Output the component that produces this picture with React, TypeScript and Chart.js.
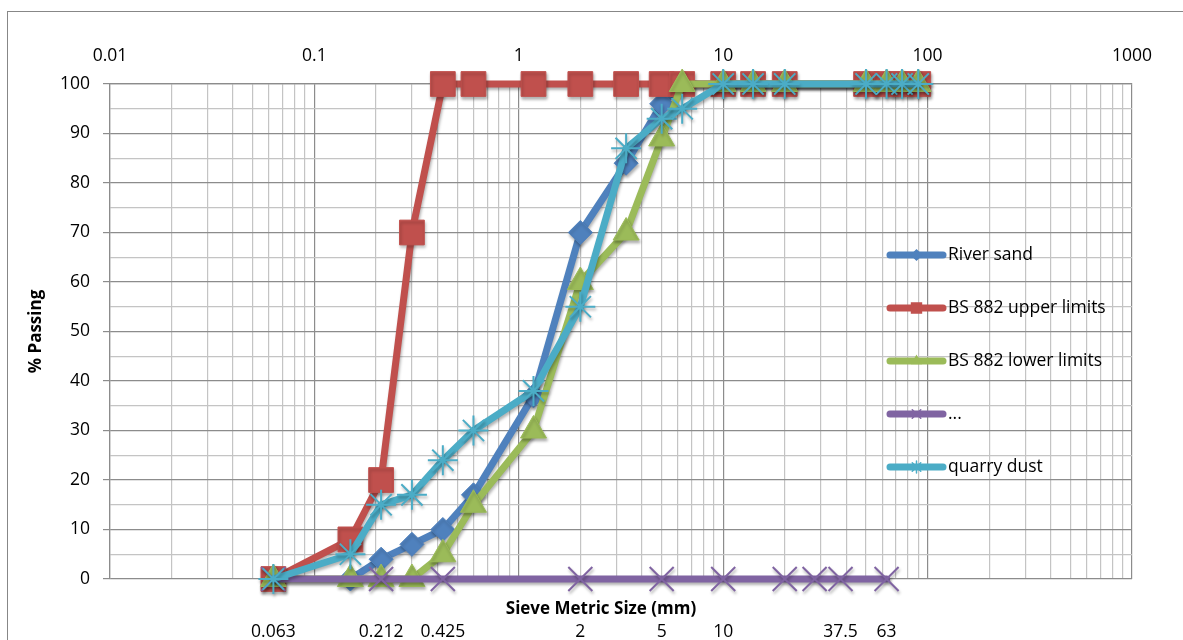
import React, { useEffect, useRef } from 'react';
import { Chart, registerables } from 'chart.js';
import { drawPoint } from 'chart.js/helpers';

Chart.register(...registerables);

// ---- data ----
const sieveSizes = [0.063, 0.15, 0.212, 0.3, 0.425, 0.6, 1.18, 2, 3.35, 5, 6.3, 10, 14, 20, 50, 63, 75, 90];
const riverSand = [null, 0, 4, 7, 10, 17, 37, 70, 84, 96, 100, 100, 100, 100, 100, 100, 100, 100];
const upperLimits = [0, 8, 20, 70, 100, 100, 100, 100, 100, 100, 100, 100, 100, 100, 100, 100, 100, 100];
const lowerLimits = [0, 0, 0, 0, 5, 15, 30, 60, 70, 89, 100, 100, 100, 100, 100, 100, 100, 100];
const quarryDust = [0, 5, 15, 17, 24, 30, 38, 55, 87, 93, 95, 100, 100, 100, 100, 100, 100, 100];
const dotsSizes = [0.063, 0.212, 0.425, 2, 5, 10, 20, 28, 37.5, 63];
const dotsValues = [0, 0, 0, 0, 0, 0, 0, 0, 0, 0];
const seriesNames = ['River sand', 'BS 882 upper limits', 'BS 882 lower limits', '...', 'quarry dust'];
const decadeValues = [0.01, 0.1, 1, 10, 100, 1000];
const decadeLabels = ['0.01', '0.1', '1', '10', '100', '1000'];
const bottomTickValues = [0.063, 0.212, 0.425, 2, 5, 10, 37.5, 63];
const bottomTickLabels = ['0.063', '0.212', '0.425', '2', '5', '10', '37.5', '63'];
const xTitle = 'Sieve Metric Size (mm)';
const yTitle = '% Passing';

const FONT = '"Open Sans"';
const FONT_SIZE = 17.5;
const DARK_GRID = '#8c8c8c';
const LIGHT_GRID = '#c4c4c4';

function toPoints(xs: number[], ys: (number | null)[]) {
  return xs
    .map((x, i) => ({ x, y: ys[i] }))
    .filter((p) => p.y !== null && p.y !== undefined) as { x: number; y: number }[];
}

function isDecade(v: number) {
  const l = Math.log10(v);
  return Math.abs(l - Math.round(l)) < 1e-9;
}

function logTicks() {
  const ticks: { value: number }[] = [];
  for (let d = 0; d < decadeValues.length - 1; d++) {
    for (let k = 1; k <= 9; k++) {
      ticks.push({ value: Number((decadeValues[d] * k).toPrecision(6)) });
    }
  }
  ticks.push({ value: decadeValues[decadeValues.length - 1] });
  return ticks;
}

const backgroundPlugin = {
  id: 'frame',
  beforeDraw(chart: any) {
    const ctx = chart.ctx;
    ctx.save();
    ctx.fillStyle = '#ffffff';
    ctx.fillRect(0, 0, chart.width, chart.height);
    ctx.strokeStyle = '#878787';
    ctx.lineWidth = 1;
    ctx.strokeRect(7.5, 11.5, 2000, 2000);
    ctx.restore();
  },
};

const shadowPlugin = {
  id: 'shadow',
  beforeDatasetsDraw(chart: any) {
    const ctx = chart.ctx;
    ctx.save();
    ctx.shadowColor = 'rgba(0,0,0,0.3)';
    ctx.shadowBlur = 3;
    ctx.shadowOffsetX = 1;
    ctx.shadowOffsetY = 2.5;
  },
  afterDatasetsDraw(chart: any) {
    chart.ctx.restore();
  },
};

// x-axis title: Excel places it slightly left of the plot centre
const xTitlePlugin = {
  id: 'xTitleText',
  afterDraw(chart: any) {
    const s = chart.scales.xTitle;
    const ctx = chart.ctx;
    ctx.save();
    ctx.fillStyle = '#000';
    ctx.font = `bold 17px ${FONT}`;
    ctx.textAlign = 'center';
    ctx.textBaseline = 'middle';
    ctx.fillText(xTitle, (s.left + s.right) / 2 - 20, s.top + 30);
    ctx.restore();
  },
};

const legendPlugin = {
  id: 'insideLegend',
  afterDraw(chart: any) {
    const ctx = chart.ctx;
    const x0 = 890;
    const x1 = 943;
    const tx = 948;
    const y0 = 255;
    const gap = 53;
    chart.data.datasets.forEach((ds: any, i: number) => {
      const y = y0 + i * gap;
      ctx.save();
      ctx.strokeStyle = ds.borderColor;
      ctx.fillStyle = ds.borderColor;
      ctx.lineWidth = 7;
      ctx.lineCap = 'round';
      ctx.beginPath();
      ctx.moveTo(x0, y);
      ctx.lineTo(x1, y);
      ctx.stroke();
      ctx.lineWidth = 1.5;
      drawPoint(ctx, { pointStyle: ds.pointStyle, radius: ds.legendRadius, rotation: 0, borderWidth: 1.5 }, (x0 + x1) / 2, y);
      ctx.fillStyle = '#000';
      ctx.font = `${FONT_SIZE}px ${FONT}`;
      ctx.textBaseline = 'middle';
      ctx.textAlign = 'left';
      ctx.fillText(ds.label, tx, y);
      ctx.restore();
    });
  },
};

export default function App() {
  const canvasRef = useRef<HTMLCanvasElement | null>(null);

  useEffect(() => {
    if (!canvasRef.current) return;
    const common = {
      showLine: true,
      borderWidth: 7,
      borderJoinStyle: 'round',
      borderCapStyle: 'round',
      clip: false,
      pointHoverRadius: 0,
    };
    const chart = new Chart(canvasRef.current, {
      type: 'scatter',
      data: {
        datasets: [
          {
            ...common,
            label: seriesNames[0],
            data: toPoints(sieveSizes, riverSand),
            borderColor: '#4F81BD',
            backgroundColor: '#4F81BD',
            pointBackgroundColor: '#4F81BD',
            pointBorderColor: '#4F81BD',
            pointStyle: 'rectRot',
            pointRadius: 12,
            pointBorderWidth: 1,
            legendRadius: 5,
            order: 5,
          },
          {
            ...common,
            label: seriesNames[1],
            data: toPoints(sieveSizes, upperLimits),
            borderColor: '#C0504D',
            backgroundColor: '#C0504D',
            pointBackgroundColor: '#C0504D',
            pointBorderColor: '#C0504D',
            pointStyle: 'rect',
            pointRadius: 17.5,
            pointBorderWidth: 1,
            legendRadius: 7,
            order: 4,
          },
          {
            ...common,
            label: seriesNames[2],
            data: toPoints(sieveSizes, lowerLimits),
            borderColor: '#9BBB59',
            backgroundColor: '#9BBB59',
            pointBackgroundColor: '#9BBB59',
            pointBorderColor: '#9BBB59',
            pointStyle: 'triangle',
            pointRadius: 15,
            pointBorderWidth: 1,
            legendRadius: 5,
            order: 3,
          },
          {
            ...common,
            label: seriesNames[3],
            data: toPoints(dotsSizes, dotsValues),
            borderColor: '#8064A2',
            backgroundColor: '#8064A2',
            pointBackgroundColor: '#8064A2',
            pointBorderColor: '#8064A2',
            pointStyle: 'crossRot',
            pointRadius: 17,
            pointBorderWidth: 2,
            legendRadius: 6,
            order: 2,
          },
          {
            ...common,
            label: seriesNames[4],
            data: toPoints(sieveSizes, quarryDust),
            borderColor: '#4BACC6',
            backgroundColor: '#4BACC6',
            pointBackgroundColor: '#4BACC6',
            pointBorderColor: '#4BACC6',
            pointStyle: 'star',
            pointRadius: 15,
            pointBorderWidth: 2,
            legendRadius: 6,
            order: 1,
          },
        ] as any,
      },
      options: {
        animation: false,
        responsive: false,
        devicePixelRatio: 1,
        events: [],
        layout: { padding: { left: 0, right: 51, top: 0, bottom: 0 } },
        plugins: {
          legend: { display: false },
          tooltip: { enabled: false },
          title: { display: false },
        },
        scales: {
          x: {
            type: 'logarithmic',
            position: 'top',
            min: 0.01,
            max: 1000,
            afterBuildTicks: (s: any) => {
              s.ticks = logTicks();
            },
            afterFit: (s: any) => {
              s.height = 84;
            },
            ticks: {
              autoSkip: false,
              maxRotation: 0,
              padding: 17,
              color: '#000',
              font: { family: FONT, size: FONT_SIZE },
              callback: (v: any) => {
                const n = Number(v);
                if (!isDecade(n)) return '';
                return decadeLabels[Math.round(Math.log10(n)) + 2];
              },
            },
            grid: {
              drawTicks: false,
              lineWidth: 1.2,
              color: (c: any) => (c.tick && isDecade(c.tick.value) ? DARK_GRID : LIGHT_GRID),
            },
            border: { display: true, color: DARK_GRID, width: 1.2 },
          },
          xTitle: {
            type: 'logarithmic',
            position: 'bottom',
            weight: 0,
            min: 0.01,
            max: 1000,
            afterFit: (s: any) => {
              s.height = 43;
            },
            ticks: { display: false },
            grid: { display: false, drawTicks: false },
            border: { display: false },
            title: { display: false, text: xTitle },
          },
          xLabels: {
            type: 'logarithmic',
            position: 'bottom',
            weight: 1,
            min: 0.01,
            max: 1000,
            afterBuildTicks: (s: any) => {
              s.ticks = bottomTickValues.map((v) => ({ value: v }));
            },
            afterFit: (s: any) => {
              s.height = 18;
            },
            ticks: {
              autoSkip: false,
              maxRotation: 0,
              padding: 0,
              color: '#000',
              font: { family: FONT, size: FONT_SIZE },
              callback: (_v: any, i: number) => bottomTickLabels[i],
            },
            grid: { display: false, drawTicks: false },
            border: { display: false },
          },
          y: {
            type: 'linear',
            position: 'left',
            min: 0,
            max: 100,
            afterFit: (s: any) => {
              s.width = 110;
            },
            ticks: {
              stepSize: 5,
              padding: 13,
              color: '#000',
              font: { family: FONT, size: FONT_SIZE },
              callback: (v: any) => (Number(v) % 10 === 0 ? String(v) : ''),
            },
            grid: {
              lineWidth: 1.2,
              tickLength: 7,
              color: (c: any) => (c.tick && c.tick.value % 10 === 0 ? DARK_GRID : LIGHT_GRID),
              tickColor: (c: any) => (c.tick && c.tick.value % 10 === 0 ? DARK_GRID : 'rgba(0,0,0,0)'),
            },
            border: { display: true, color: DARK_GRID, width: 1.2 },
            title: {
              display: true,
              text: yTitle,
              color: '#000',
              font: { family: FONT, size: 17, weight: 'bold' },
              padding: { top: 26, bottom: 0 },
            },
          },
        },
      } as any,
      plugins: [backgroundPlugin, shadowPlugin, xTitlePlugin, legendPlugin],
    });
    return () => chart.destroy();
  }, []);

  return (
    <div style={{ position: 'fixed', left: 0, top: 0, width: 1183, height: 640, background: '#fff' }}>
      <canvas ref={canvasRef} width={1183} height={640} style={{ width: 1183, height: 640, display: 'block' }} />
    </div>
  );
}
